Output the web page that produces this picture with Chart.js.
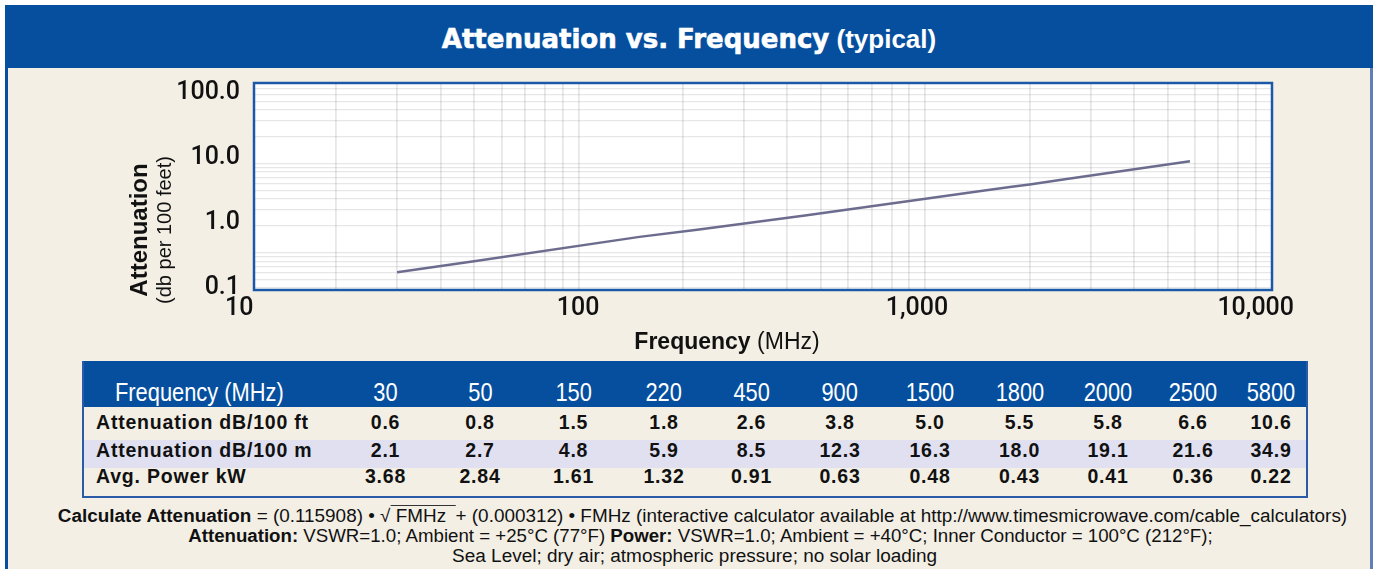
<!DOCTYPE html>
<html>
<head>
<meta charset="utf-8">
<script src="https://cdn.jsdelivr.net/npm/chart.js@4.4.1/dist/chart.umd.min.js"></script>
<style>
  html, body { margin: 0; padding: 0; background: #fff; }
  body { width: 1375px; height: 569px; position: relative; overflow: hidden; font-family: "Liberation Sans", Arial, sans-serif; }
  #panel { position: absolute; left: 5px; top: 5px; width: 1362px; height: 580px; background: #f3efe5;
           border-left: 3px solid #0a4f9f; border-right: 3px solid #5f7fb5; }
  #titlebar { position: absolute; left: 5px; top: 5px; width: 1368px; height: 60px; padding-top: 3px; background: #064f9f;
              color: #fff; text-align: center; line-height: 63px; }
  #titlebar .big { font-family: "DejaVu Sans", sans-serif; font-weight: bold; font-size: 26px; -webkit-text-stroke: 0.6px #fff; }
  #titlebar .small { font-family: "Liberation Sans", Arial, sans-serif; font-weight: bold; font-size: 26px; }
  #chartWrap { position: absolute; left: 0; top: 68px; width: 1375px; height: 290px; }
  #ytitle { position: absolute; left: 50px; top: 207px; width: 200px; height: 46px; transform: rotate(-90deg);
            text-align: center; line-height: 23px; color: #111; }
  #ytitle b { font-size: 24px; }
  #ytitle span { font-size: 20px; }
  #xtitle { position: absolute; left: 527px; top: 328px; width: 400px; text-align: center; line-height: 26px;
            font-size: 23px; color: #111; }
  #tbl { position: absolute; left: 82px; top: 361px; width: 1222px; height: 135px;
         border-left: 2px solid #2a5aa8; border-right: 2px solid #2a5aa8; border-bottom: 2px solid #2a5aa8; }
  .band { position: absolute; left: 0; width: 1222px; }
  .row { position: absolute; left: 0; display: flex; height: 26px; line-height: 26px; white-space: nowrap; }
  .row div { text-align: center; }
  .row span { display: inline-block; }
  .hdr { color: #fff; font-size: 26px; }
  .hdr span { transform: scaleX(0.84); }
  .body { color: #111; font-weight: bold; font-size: 19.5px; letter-spacing: 0.8px; }
  .note { position: absolute; left: 0; width: 1375px; text-align: center; color: #111; white-space: nowrap;
          font-size: 18px; line-height: 20px; }
  .note span.fit { display: inline-block; }
  .rad { border-top: 1px solid #333; padding-right: 4px; }
</style>
</head>
<body>
<div id="panel"></div>
<div id="titlebar"><span class="big">Attenuation vs. Frequency</span><span class="small"> (typical)</span></div>
<div id="chartWrap"><canvas id="attenChart" width="1375" height="290"></canvas></div>
<div id="ytitle"><b>Attenuation</b><br><span>(db per 100 feet)</span></div>
<div id="xtitle"><b>Frequency</b> (MHz)</div>
<div id="tbl"></div>
<div class="note" style="top:506px"><span class="fit" data-w="1289" data-c="702"><b>Calculate Attenuation</b> = (0.115908) • √<span class="rad"> FMHz </span> +  (0.000312) •  FMHz (interactive calculator available at http://www.timesmicrowave.com/cable_calculators)</span></div>
<div class="note" style="top:526px"><span class="fit" data-w="1025" data-c="700"><b>Attenuation:</b> VSWR=1.0; Ambient = +25°C (77°F) <b>Power:</b> VSWR=1.0; Ambient = +40°C; Inner Conductor = 100°C (212°F);</span></div>
<div class="note" style="top:546px"><span class="fit" data-w="485" data-c="695">Sea Level; dry air; atmospheric pressure; no solar loading</span></div>

<script>
const freqMHz = [30, 50, 150, 220, 450, 900, 1500, 1800, 2000, 2500, 5800];
const attenPer100ft = [0.6, 0.8, 1.5, 1.8, 2.6, 3.8, 5.0, 5.5, 5.8, 6.6, 10.6];
const attenPer100m = [2.1, 2.7, 4.8, 5.9, 8.5, 12.3, 16.3, 18.0, 19.1, 21.6, 34.9];
const avgPowerKW = [3.68, 2.84, 1.61, 1.32, 0.91, 0.63, 0.48, 0.43, 0.41, 0.36, 0.22];

const xTickValues = [10, 100, 1000, 10000];
const xTickLabels = ['10', '100', '1,000', '10,000'];
const yTickValues = [0.1, 1, 10, 100];
const yTickLabels = ['0.1', '1.0', '10.0', '100.0'];

const rowLabels = ['Attenuation dB/100 ft', 'Attenuation dB/100 m', 'Avg. Power kW'];

// ---- table under the chart ----
const colW = [254, 95, 94, 93, 88, 87, 90, 90, 89, 88, 82, 74];
const tbl = document.getElementById('tbl');

function addBand(top, h, color) {
  let b = document.createElement('div');
  b.className = 'band';
  b.style.top = top + 'px';
  b.style.height = h + 'px';
  b.style.background = color;
  tbl.appendChild(b);
}
function addRow(top, cls, label, vals, padLeft) {
  let r = document.createElement('div');
  r.className = 'row ' + cls;
  r.style.top = top + 'px';
  tbl.appendChild(r);
  [label].concat(vals).forEach((txt, i) => {
    let c = document.createElement('div');
    let s = document.createElement('span');
    c.style.width = colW[i] + 'px';
    s.textContent = txt;
    if (i === 0) {
      c.style.textAlign = 'left';
      c.style.paddingLeft = padLeft + 'px';
      c.style.boxSizing = 'border-box';
      s.style.transformOrigin = 'left center';
    }
    c.appendChild(s);
    r.appendChild(c);
  });
}
addBand(0, 46, '#064f9f');
addBand(79, 28, '#e0e0f0');
addRow(18, 'hdr', 'Frequency (MHz)', freqMHz.map(String), 31);
addRow(48, 'body', rowLabels[0], attenPer100ft.map(v => v.toFixed(1)), 12);
addRow(76, 'body', rowLabels[1], attenPer100m.map(v => v.toFixed(1)), 12);
addRow(102, 'body', rowLabels[2], avgPowerKW.map(v => v.toFixed(2)), 12);

// squeeze the footnote lines to the narrow face of the original
document.querySelectorAll('.note span.fit').forEach(s => {
  let w = s.offsetWidth, k = (+s.dataset.w) / w;
  let left = (+s.dataset.c) - 1375 / 2;
  s.style.transform = 'translateX(' + left + 'px) scaleX(' + k.toFixed(3) + ')';
});

// ---- chart ----
function decadeTicks(min, max) {
  let out = [];
  for (let e = -2; e <= 5; e++) {
    for (let m = 1; m <= 9; m++) {
      let v = m * Math.pow(10, e);
      if (v >= min && v <= max) out.push({value: v});
    }
  }
  return out;
}

const plotFrame = {
  id: 'plotFrame',
  beforeDraw(chart) {
    const a = chart.chartArea, ctx = chart.ctx;
    ctx.save();
    ctx.fillStyle = '#ffffff';
    ctx.fillRect(a.left, a.top, a.right - a.left, a.bottom - a.top);
    ctx.restore();
  },
  afterDraw(chart) {
    const a = chart.chartArea, ctx = chart.ctx;
    ctx.save();
    ctx.strokeStyle = '#1c58a8';
    ctx.lineWidth = 2.5;
    ctx.strokeRect(a.left, a.top, a.right - a.left, a.bottom - a.top);
    ctx.restore();
  }
};

const tickFont = {family: 'Roboto, "Liberation Sans", sans-serif', size: 25, weight: 500};

let config = {
  type: 'line',
  data: {
    datasets: [{
      data: freqMHz.map((f, i) => ({x: f, y: attenPer100ft[i]})),
      borderColor: '#6c6c8e',
      borderWidth: 2.5,
      pointRadius: 0,
      tension: 0,
      xAxisID: 'x',
      yAxisID: 'y'
    }]
  },
  options: {
    responsive: false,
    animation: false,
    layout: { padding: {top: 15, right: 103, left: 0, bottom: 0} },
    plugins: { legend: {display: false}, tooltip: {enabled: false} },
    scales: {
      x: {
        type: 'logarithmic', min: 11.6, max: 10000, position: 'bottom',
        afterBuildTicks: s => { s.ticks = decadeTicks(s.min, s.max); },
        afterFit: s => { s.height = 0; },
        ticks: {display: false},
        border: {display: false},
        grid: {drawTicks: false, color: 'rgba(110,110,110,0.17)', lineWidth: 1.8}
      },
      y: {
        type: 'logarithmic', min: 0.38, max: 80, position: 'left',
        afterBuildTicks: s => { s.ticks = decadeTicks(s.min, s.max); },
        afterFit: s => { s.width = 0; },
        ticks: {display: false},
        border: {display: false},
        grid: {drawTicks: false, color: 'rgba(110,110,110,0.17)', lineWidth: 1.2}
      },
      // label axes: the printed tick labels sit a little off the grid in the original
      xLab: {
        type: 'logarithmic', min: 11.05, max: 11170, position: 'bottom',
        afterBuildTicks: s => { s.ticks = xTickValues.map(v => ({value: v})); },
        afterFit: s => { s.height = 68; s.paddingLeft = 0; s.paddingRight = 0; },
        border: {display: false},
        grid: {display: false, drawTicks: false},
        ticks: {
          autoSkip: false, maxRotation: 0, padding: 4, color: '#111', font: tickFont,
          callback: (v, i) => xTickLabels[i]
        }
      },
      yLab: {
        type: 'logarithmic', min: 0.093, max: 139, position: 'left',
        afterBuildTicks: s => { s.ticks = yTickValues.map(v => ({value: v})); },
        afterFit: s => { s.width = 254; s.paddingTop = 0; s.paddingBottom = 0; },
        border: {display: false},
        grid: {display: false, drawTicks: false},
        ticks: {
          autoSkip: false, padding: 14, color: '#111', font: tickFont,
          callback: (v, i) => yTickLabels[i]
        }
      }
    }
  },
  plugins: [plotFrame]
};

let ctx = document.getElementById('attenChart').getContext('2d');
let attenChart = new Chart(ctx, config);
</script>
</body>
</html>
